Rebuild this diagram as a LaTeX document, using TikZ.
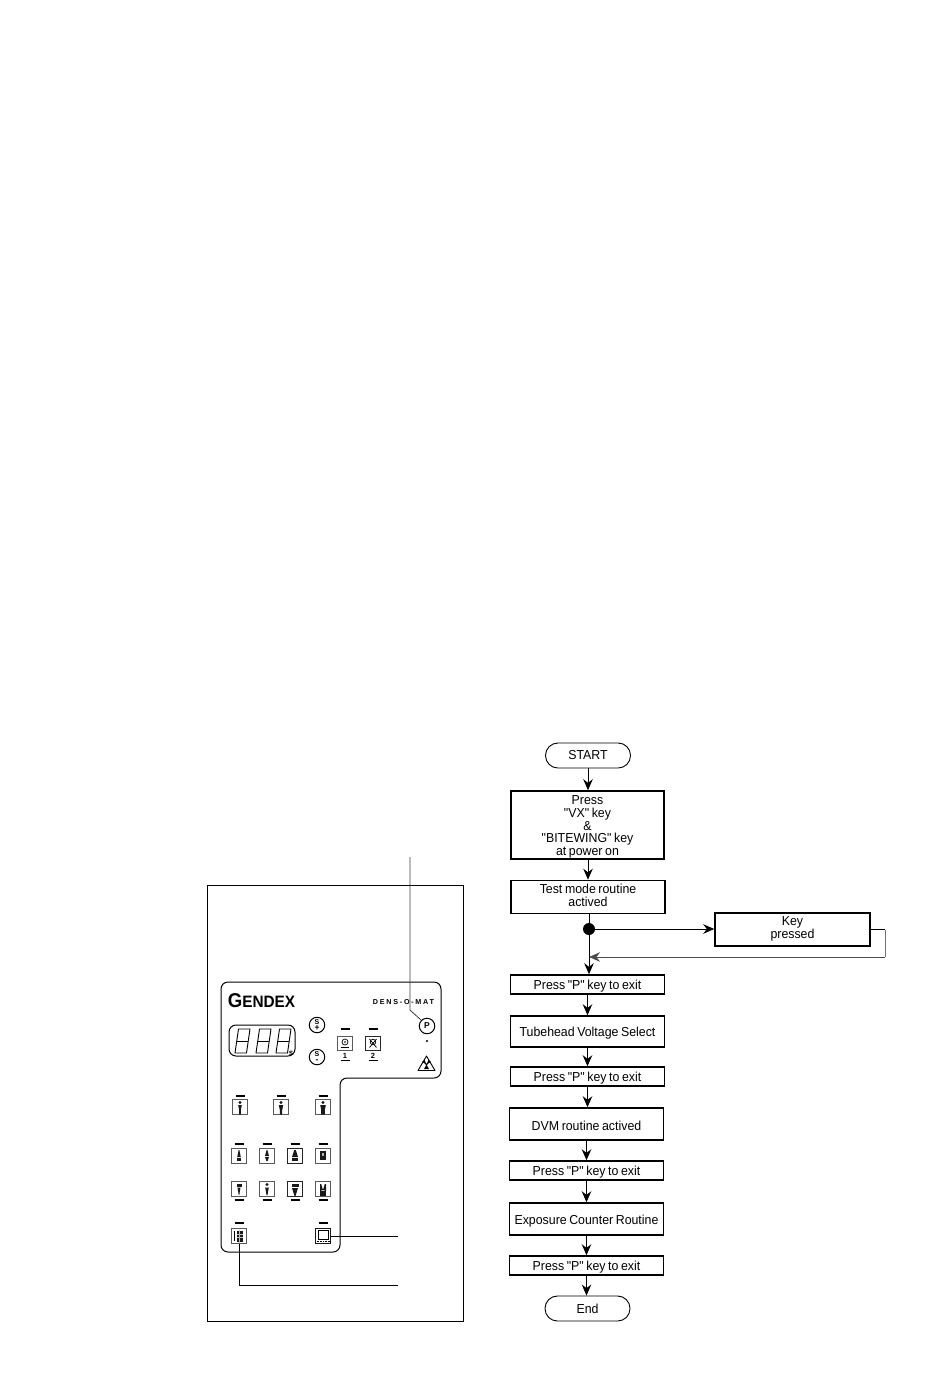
\documentclass[tikz,border=0pt]{standalone}
\usepackage{graphicx}
\usepackage{fontspec}
\setmainfont{Liberation Sans}
\newfontfamily\flowfont{Liberation Sans}
\newcommand{\flowtype}{\fontsize{13}{12.6}\flowfont\lineskiplimit=-6pt\relax}
\newcommand{\sq}[1]{\scalebox{.95}[1]{#1}}
\newcommand{\lowstrut}{\rule[-7.5pt]{0pt}{1pt}}
\usetikzlibrary{arrows.meta,calc}
\tikzset{
  x=1pt,y=-1pt,
  flowbox/.style={draw=black,line width=1.5pt,fill=white,minimum height=#1,inner sep=0pt,text width=154pt,align=center,font=\flowtype,execute at begin node={\spaceskip=.21em\relax\rule{0pt}{13pt}}},
  flowbox/.default=19pt,
  terminal/.style={draw=black,line width=0.9pt,rounded corners=12.4pt,minimum width=85pt,minimum height=25pt,inner sep=0pt,font=\flowtype},
  flowline/.style={draw=black,line width=0.9pt,-{Stealth[length=11pt,width=9.5pt]}},
  plainline/.style={draw=black,line width=0.9pt},
  leader/.style={draw=black!75,line width=0.8pt},
  keybox/.style={draw=black!65,line width=1pt,minimum width=15pt,minimum height=15pt,inner sep=0pt},
  filmbox/.style={keybox,minimum height=13.5pt},
  roundkey/.style={draw=black,line width=1pt,circle,minimum size=15.5pt,inner sep=0pt,font=\fontsize{8.5}{8.5}\selectfont\bfseries},
  tick/.style={draw=black,line width=1.4pt},
  seg/.style={draw=black,line width=0.9pt},
  icon/.style={fill=black!90,draw=none},
}
\newcommand{\digitseven}[2]{%
  \draw[seg,line join=round] (#1+3.5,#2-12) -- (#1+15,#2-12) -- (#1+11.5,#2+12) -- (#1,#2+12) -- cycle;
  \draw[seg] (#1+1.7,#2) -- (#1+13.3,#2);
}
\newcommand{\tickat}[2]{\draw[tick] (#1-4.5,#2) -- (#1+4.5,#2);}
\begin{document}
\begin{tikzpicture}
\useasboundingbox (0,0) rectangle (950,1379);
\fill[white] (0,0) rectangle (950,1379);

% ---- left panel
\node[draw=black,line width=0.9pt,minimum width=256.5pt,minimum height=436pt,inner sep=0pt] (frame) at (335.5,1103) {};
\draw[line width=1pt,rounded corners=7pt] (221,982) -- (441,982) -- (441,1078) -- (340,1078) -- (340,1252) -- (221,1252) -- cycle;

\node[inner sep=0pt,font=\fontsize{20}{20}\selectfont\bfseries] (logo) at (261.5,1001) {\scalebox{.93}[1]{G\fontsize{16.5}{16.5}\selectfont ENDEX}};
\node[inner sep=0pt,font=\fontsize{7.2}{7}\selectfont\bfseries\addfontfeatures{LetterSpace=24}] (model) at (403.5,1002.5) {DENS-O-MAT};

\node[draw=black,line width=1pt,rounded corners=7pt,minimum width=66pt,minimum height=31pt,inner sep=0pt] (display) at (262,1040.5) {};
\digitseven{235}{1041}
\digitseven{256}{1041}
\digitseven{276}{1041}
\node[inner sep=0pt,font=\fontsize{8}{8}\selectfont\bfseries] (unit) at (291,1053) {s};

\node[roundkey,align=center] (splus) at (317,1025) {\fontsize{7}{7}\selectfont S\\[-2pt]+};
\node[roundkey,align=center] (sminus) at (317,1057) {\fontsize{7}{7}\selectfont S\\[-2pt]-};
\node[roundkey] (pkey) at (427,1026) {P};
\fill (427,1041) circle (1.2pt);

\node[filmbox] (film1) at (345,1043.5) {};
\node[filmbox,draw=black!85,line width=1.1pt] (film2) at (373,1043.5) {};
\tickat{345}{1029}\tickat{373}{1029}
\draw[line width=0.7pt] (345,1042) circle (3pt);
\fill[black!70] (345,1042) circle (1.2pt);
\draw[line width=0.7pt] (341,1047.5) -- (349,1047.5);
\draw[line width=0.7pt] (369.5,1039) -- (376.5,1047.5) (376.5,1039) -- (369.5,1047.5);
\draw[line width=0.7pt] (373,1042) circle (2.8pt);
\node[inner sep=0pt,font=\fontsize{7.5}{7.5}\selectfont\bfseries] (one) at (345,1055.5) {1};
\node[inner sep=0pt,font=\fontsize{7.5}{7.5}\selectfont\bfseries] (two) at (373,1055.5) {2};
\draw[line width=1pt] (340.5,1060) -- (349.5,1060) (368.5,1060) -- (377.5,1060);

\draw[line width=0.9pt,line join=round] (426.5,1056) -- (435,1070.5) -- (418,1070.5) -- cycle;
\fill (426.5,1064.5) circle (1.2pt);
\fill (424,1069) -- (426.5,1064.5) -- (429,1069) -- cycle;
\fill (422,1062) -- (426.5,1064.5) -- (424.5,1060) -- cycle;
\fill (431,1062) -- (426.5,1064.5) -- (428.5,1060) -- cycle;

% ---- patient keys
\node[keybox] (adult1) at (240,1107) {};
\node[keybox] (adult2) at (281,1107) {};
\node[keybox] (adult3) at (323,1107) {};
\tickat{240}{1096}\tickat{281}{1096}\tickat{323}{1096}
\foreach \cx/\w in {240/0.8,281/1.2,323/1.8}{
  \fill[icon] (\cx,1102.5) circle (1.7pt);
  \fill[icon] (\cx-\w-1,1105) -- (\cx+\w+1,1105) -- (\cx+\w,1110) -- (\cx+\w,1114.5) -- (\cx-\w,1114.5) -- (\cx-\w,1110) -- cycle;
}

% ---- tooth keys, upper row
\node[keybox] (t1) at (239,1156) {};
\node[keybox] (t2) at (267,1156) {};
\node[keybox,draw=black!85] (t3) at (295,1156) {};
\node[keybox] (t4) at (323,1156) {};
\tickat{239}{1144}\tickat{267}{1144}\tickat{295}{1144}\tickat{323}{1144}
\fill[icon] (238.6,1150) -- (239.4,1150) -- (240.8,1157) -- (237.2,1157) -- cycle;
\fill[icon] (237,1158) rectangle (241,1161);
\fill[icon] (266.6,1150) -- (267.4,1150) -- (269,1156) -- (265,1156) -- cycle;
\fill[icon] (265,1157) -- (269,1157) -- (267.6,1161) -- (266.4,1161) -- cycle;
\fill[icon] (294.2,1150) -- (295.8,1150) -- (298,1157) -- (292,1157) -- cycle;
\fill[icon] (292,1158) rectangle (298,1161);
\fill[icon] (320,1151) rectangle (326,1160);
\fill[black!30] (321.8,1153) rectangle (324.2,1155.5);

% ---- tooth keys, lower row
\node[keybox] (b1) at (239,1189) {};
\node[keybox] (b2) at (267,1189) {};
\node[keybox,draw=black!85] (b3) at (295,1189) {};
\node[keybox] (b4) at (323,1189) {};
\tickat{239}{1200}\tickat{267}{1200}\tickat{295}{1200}\tickat{323}{1200}
\fill[icon] (236.5,1184) rectangle (241.5,1186.5);
\fill[icon] (237.5,1187.5) -- (240.5,1187.5) -- (239.3,1195) -- (238.7,1195) -- cycle;
\fill[icon] (267,1184.5) circle (1.7pt);
\fill[icon] (265.2,1187.5) -- (268.8,1187.5) -- (267.5,1195) -- (266.5,1195) -- cycle;
\fill[icon] (291.5,1184) rectangle (298.5,1187);
\fill[icon] (292,1188) -- (298,1188) -- (295.5,1196) -- (294.5,1196) -- cycle;
\fill[icon] (320,1191) rectangle (326,1195.5);
\fill[icon] (320,1184) -- (321.2,1184) -- (323,1190) -- (320,1191) -- cycle;
\fill[icon] (326,1184) -- (324.8,1184) -- (323,1190) -- (326,1191) -- cycle;

% ---- bottom keys
\node[keybox] (kvkey) at (239,1236) {};
\node[keybox,draw=black!90] (screen) at (323,1236) {};
\tickat{239}{1223}\tickat{323}{1223}
\fill[icon] (236.5,1230.5) rectangle (243,1241.5);
\draw[black!25,line width=0.7pt] (236.5,1234) -- (243,1234) (236.5,1237.5) -- (243,1237.5) (239.8,1229.5) -- (239.8,1242.5);
\draw[line width=0.8pt] (234.5,1231) -- (234.5,1241);
\draw[line width=0.9pt] (318,1230) rectangle (328,1239);
\draw[line width=1.3pt,dash pattern=on 1pt off 0.6pt] (316.5,1241.5) -- (329.5,1241.5);

% ---- leaders
\coordinate (leadP) at (410,857);
\coordinate (leadS) at (398,1236);
\coordinate (leadK) at (398,1285);
\draw[leader] (leadP) -- (410,1010) -- (pkey.north west);
\draw[plainline] (screen.east) -- (leadS);
\draw[plainline] (kvkey.south) -- (239,1285) -- (leadK);

% ---- flow chart
\node[terminal] (start) at (588,755.5) {\sq{START}};
\node[flowbox=68pt,text width=153pt] (press) at (587.5,825) {\sq{Press}\\\sq{"VX" key}\\\sq{\&}\\\sq{"BITEWING" key}\\\sq{at power on}};
\node[flowbox=32pt] (test) at (588,897) {\sq{Test mode routine}\\\sq{actived}\lowstrut};
\node[circle,fill=black,minimum size=12pt,inner sep=0pt] (dot) at (589,929) {};
\node[flowbox=31pt,text width=155pt] (key) at (792.5,929.5) {\sq{Key}\\\sq{pressed}\lowstrut};
\coordinate (merge) at (589,957);
\node[flowbox] (p1) at (587.5,984.5) {\sq{Press "P" key to exit}};
\node[flowbox=31pt] (tube) at (587.5,1031.5) {\sq{Tubehead Voltage Select}};
\node[flowbox] (p2) at (587.5,1076.5) {\sq{Press "P" key to exit}};
\node[flowbox=32pt] (dvm) at (586.5,1124) {\sq{DVM routine actived}};
\node[flowbox] (p3) at (586.5,1170.5) {\sq{Press "P" key to exit}};
\node[flowbox=32pt] (expo) at (586.5,1219) {\sq{Exposure Counter Routine}};
\node[flowbox] (p4) at (586.5,1265.5) {\sq{Press "P" key to exit}};
\node[terminal] (endn) at (587.5,1308.5) {\sq{End}};

\draw[flowline] (start.south) -- (start.south |- press.north);
\draw[flowline] (press.south -| start) -- (test.north -| start);
\draw[plainline] (test.south -| dot) -- (dot);
\draw[flowline] (dot) -- (dot -| key.west);
\draw[flowline] (dot) -- (dot |- p1.north);
\coordinate (loopA) at (885,929.5);
\coordinate (loopB) at (885,957);
\draw[plainline] (key.east) -- (loopA);
\draw[draw=black!55,line width=0.9pt] (loopA) -- (loopB);
\draw[draw=black!70,line width=0.9pt,-{Stealth[length=11pt,width=9.5pt]}] (loopB) -- (merge);
\draw[flowline] (p1.south) -- (p1.south |- tube.north);
\draw[flowline] (tube.south) -- (tube.south |- p2.north);
\draw[flowline] (p2.south) -- (p2.south |- dvm.north);
\draw[flowline] (dvm.south) -- (dvm.south |- p3.north);
\draw[flowline] (p3.south) -- (p3.south |- expo.north);
\draw[flowline] (expo.south) -- (expo.south |- p4.north);
\draw[flowline] (p4.south) -- (p4.south |- endn.north);
\end{tikzpicture}
\end{document}
